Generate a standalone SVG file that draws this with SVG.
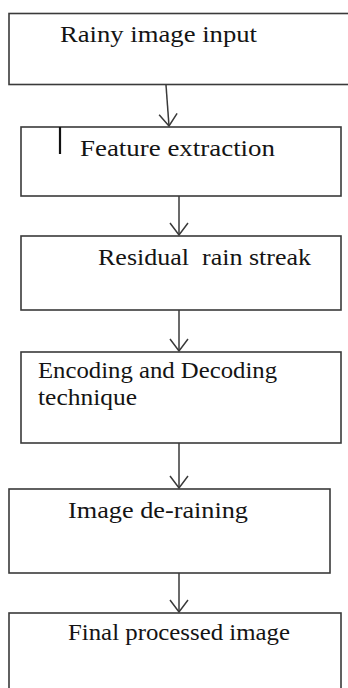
<svg xmlns="http://www.w3.org/2000/svg" width="348" height="688" viewBox="0 0 348 688">
<style>
.box{fill:#fff;stroke:#3a3a3a;stroke-width:1.6}
.t{font-family:'Liberation Serif',serif;font-size:23px;fill:#141414}
.c{stroke:#3a3a3a;stroke-width:1.5;fill:none}
</style>
<defs>
<marker id="ah" markerUnits="userSpaceOnUse" viewBox="-14 -11 16 22" refX="0" refY="0" markerWidth="16" markerHeight="22" orient="auto" overflow="visible">
<path d="M-12,-9 L0,0 L-12,9" fill="none" stroke="#3a3a3a" stroke-width="1.5"/>
</marker>
</defs>
<rect width="348" height="688" fill="#fff"/>
<g id="n1"><rect class="box" x="9" y="13.5" width="345" height="71"/><text class="t" x="60" y="42" textLength="197" lengthAdjust="spacingAndGlyphs">Rainy image input</text></g>
<g id="n2"><rect class="box" x="21" y="127" width="320" height="69"/><line x1="60" y1="127" x2="60" y2="154" stroke="#111" stroke-width="2.2"/><text class="t" x="80" y="156" textLength="195" lengthAdjust="spacingAndGlyphs">Feature extraction</text></g>
<g id="n3"><rect class="box" x="21" y="236" width="320" height="74"/><text class="t" x="98" y="265" textLength="213" lengthAdjust="spacingAndGlyphs" xml:space="preserve">Residual  rain streak</text></g>
<g id="n4"><rect class="box" x="21" y="352" width="320" height="91"/><text class="t" x="38" y="378" textLength="239" lengthAdjust="spacingAndGlyphs">Encoding and Decoding</text><text class="t" x="38" y="405" textLength="99" lengthAdjust="spacingAndGlyphs">technique</text></g>
<g id="n5"><rect class="box" x="9" y="489" width="321" height="84"/><text class="t" x="68" y="518" textLength="180" lengthAdjust="spacingAndGlyphs">Image de-raining</text></g>
<g id="n6"><rect class="box" x="9" y="613" width="332" height="90"/><text class="t" x="68" y="640" textLength="222" lengthAdjust="spacingAndGlyphs">Final processed image</text></g>
<g id="connectors">
<line class="c" x1="166" y1="85" x2="169" y2="126" marker-end="url(#ah)"/>
<line class="c" x1="179" y1="196" x2="179" y2="235" marker-end="url(#ah)"/>
<line class="c" x1="179" y1="310" x2="179" y2="351" marker-end="url(#ah)"/>
<line class="c" x1="179" y1="443" x2="179" y2="488" marker-end="url(#ah)"/>
<line class="c" x1="179" y1="573" x2="179" y2="612" marker-end="url(#ah)"/>
</g>
</svg>
